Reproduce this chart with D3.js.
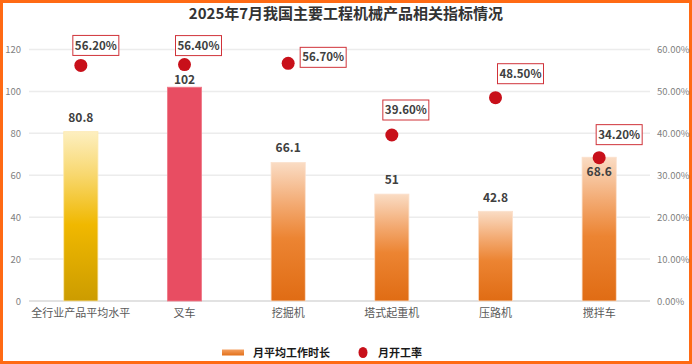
<!DOCTYPE html>
<html><head><meta charset="utf-8">
<script src="https://cdn.jsdelivr.net/npm/d3@7/dist/d3.min.js"></script>
<style>
html,body{margin:0;padding:0;background:#fff;}
svg{display:block;}
text{font-family:"Noto Sans CJK SC","Noto Sans",sans-serif;}
</style></head>
<body>
<svg id="chart" width="692" height="364"></svg>
<script>
const title = "2025年7月我国主要工程机械产品相关指标情况";
const categories = ["全行业产品平均水平","叉车","挖掘机","塔式起重机","压路机","搅拌车"];
const hours = [80.8, 102, 66.1, 51, 42.8, 68.6];
const rates = [0.562, 0.564, 0.567, 0.396, 0.485, 0.342];
const leftTicks = [0,20,40,60,80,100,120];
const rightTicks = [0,0.1,0.2,0.3,0.4,0.5,0.6];
const seriesNames = ["月平均工作时长","月开工率"];
// layout only: label box offsets relative to the dot, value label baseline offsets relative to bar top
const labelOffsets = [[15,-20],[14,-19],[35,-6],[14,-25],[25,-24],[20,-23]];
const barLabelDy = [-9.7,-3.7,-10.7,-9.7,-9.7,18.3];

const svg = d3.select("#chart");
const W = 692, H = 364;
const m = {left:29, right:41, top:49.5, bottom:63};
const x = d3.scaleBand().domain(categories).range([m.left, W-m.right]).paddingInner(0.67).paddingOuter(0.335);
const yL = d3.scaleLinear().domain([0,120]).range([H-m.bottom, m.top]);
const yR = d3.scaleLinear().domain([0,0.6]).range([H-m.bottom, m.top]);

const defs = svg.append("defs");
const g1 = defs.append("linearGradient").attr("id","gYellow").attr("x1",0).attr("y1",0).attr("x2",0).attr("y2",1);
[["0%","#fdefc0"],["25%","#f8d870"],["55%","#f0b800"],["100%","#cc9c00"]].forEach(s=>g1.append("stop").attr("offset",s[0]).attr("stop-color",s[1]));
const g2 = defs.append("linearGradient").attr("id","gOrange").attr("x1",0).attr("y1",0).attr("x2",0).attr("y2",1);
[["0%","#fadcc4"],["30%","#f3aa72"],["55%","#ec8432"],["100%","#e06c14"]].forEach(s=>g2.append("stop").attr("offset",s[0]).attr("stop-color",s[1]));
const g3 = defs.append("linearGradient").attr("id","gLeg").attr("x1",0).attr("y1",0).attr("x2",0).attr("y2",1);
[["0%","#f4a060"],["100%","#e2701a"]].forEach(s=>g3.append("stop").attr("offset",s[0]).attr("stop-color",s[1]));
const fills = ["url(#gYellow)","#e84d62","url(#gOrange)","url(#gOrange)","url(#gOrange)","url(#gOrange)"];
const strokes = ["#fde9b0","#ef7a8a","#fbe0cc","#fbe0cc","#fbe0cc","#fbe0cc"];

// background + border
svg.append("rect").attr("x",1.5).attr("y",1.5).attr("width",W-3).attr("height",H-3)
  .attr("fill","#fff").attr("stroke","#ff6a14").attr("stroke-width",3);

// title
svg.append("text").attr("x",W/2).attr("y",19).attr("text-anchor","middle")
  .attr("font-size",15).attr("font-weight","bold").attr("fill","#333").text(title);

// gridlines
svg.append("g").selectAll("line").data(leftTicks).join("line")
  .attr("x1",m.left).attr("x2",W-m.right-1)
  .attr("y1",d=>yL(d)).attr("y2",d=>yL(d))
  .attr("stroke",d=>d===0?"#d9d9d9":"#ececec").attr("stroke-width",1.5);

// left axis
const axL = svg.append("g").attr("transform",`translate(${m.left-2},0)`)
  .call(d3.axisLeft(yL).tickValues(leftTicks).tickSize(0).tickPadding(6));
axL.select(".domain").remove();
axL.selectAll("text").attr("font-size",9.5).attr("fill","#7f7f7f").attr("font-family","Liberation Sans,Arial,sans-serif");
// right axis
const axR = svg.append("g").attr("transform",`translate(${W-m.right+1},0)`)
  .call(d3.axisRight(yR).tickValues(rightTicks).tickFormat(d3.format(".2%")).tickSize(0).tickPadding(5));
axR.select(".domain").remove();
axR.selectAll("text").attr("font-size",9.5).attr("fill","#7f7f7f").attr("font-family","Liberation Sans,Arial,sans-serif");
// bottom axis
const axB = svg.append("g").attr("transform",`translate(0,${H-m.bottom})`)
  .call(d3.axisBottom(x).tickSize(0).tickPadding(8));
axB.select(".domain").remove();
axB.selectAll("text").attr("font-size",11).attr("fill","#595959");

// bars
svg.append("g").selectAll("rect").data(hours).join("rect")
  .attr("x",(d,i)=>x(categories[i])).attr("width",x.bandwidth())
  .attr("y",d=>yL(d)).attr("height",d=>yL(0)-yL(d))
  .attr("fill",(d,i)=>fills[i]).attr("stroke",(d,i)=>strokes[i]).attr("stroke-width",0.8);

// dots
svg.append("g").selectAll("circle").data(rates).join("circle")
  .attr("cx",(d,i)=>x(categories[i])+x.bandwidth()/2).attr("cy",d=>yR(d))
  .attr("r",6.5).attr("fill","#c8101a");

// bar labels
svg.append("g").selectAll("text").data(hours).join("text")
  .attr("x",(d,i)=>x(categories[i])+x.bandwidth()/2).attr("y",(d,i)=>yL(d)+barLabelDy[i])
  .attr("text-anchor","middle").attr("font-size",12).attr("font-weight","bold").attr("fill","#404040")
  .attr("font-family","Liberation Sans,Arial,sans-serif")
  .text(d=>d);

// rate labels
const lab = svg.append("g").selectAll("g").data(rates).join("g")
  .attr("transform",(d,i)=>`translate(${x(categories[i])+x.bandwidth()/2+labelOffsets[i][0]},${yR(d)+labelOffsets[i][1]})`);
lab.append("rect").attr("x",-23).attr("y",-10).attr("width",46).attr("height",20)
  .attr("fill","#fff").attr("stroke","#d0333a").attr("stroke-width",1);
lab.append("text").attr("text-anchor","middle").attr("dy","0.36em")
  .attr("font-size",11.5).attr("font-weight","bold").attr("fill","#404040")
  .attr("font-family","Liberation Sans,Arial,sans-serif")
  .text(d=>d3.format(".2%")(d));

// legend
const leg = svg.append("g");
leg.append("rect").attr("x",222).attr("y",349.5).attr("width",22).attr("height",6).attr("fill","url(#gLeg)");
leg.append("text").attr("x",253).attr("y",357).attr("font-size",11).attr("font-weight","bold").attr("fill","#1a1a1a").text(seriesNames[0]);
leg.append("ellipse").attr("cx",363).attr("cy",352.5).attr("rx",4.5).attr("ry",5.5).attr("fill","#c8101a");
leg.append("text").attr("x",378).attr("y",357).attr("font-size",11).attr("font-weight","bold").attr("fill","#1a1a1a").text(seriesNames[1]);
</script>
</body></html>
